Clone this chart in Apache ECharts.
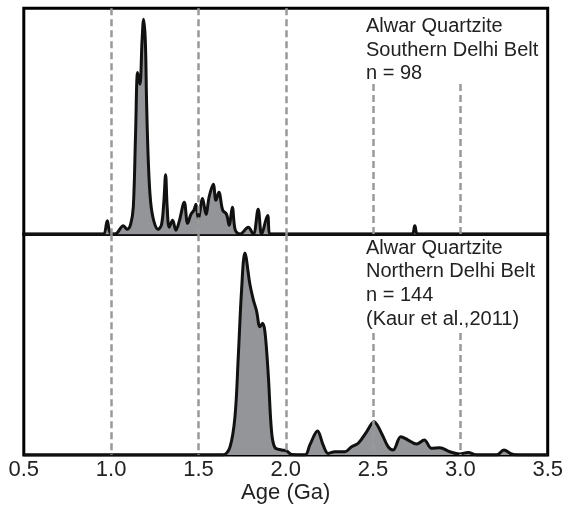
<!DOCTYPE html>
<html>
<head>
<meta charset="utf-8">
<script src="https://cdn.jsdelivr.net/npm/echarts@6/dist/echarts.min.js"></script>
<style>
    html, body { margin: 0; padding: 0; background: #fff; }
    #chart { width: 569px; height: 512px; }
</style>
</head>
<body>
<div id="chart"></div>
<script>
// Data - Southern Delhi Belt (upper panel), relative density
let topAge = [0.5, 0.9, 0.955, 0.978, 0.993, 1.022, 1.07, 1.092, 1.112, 1.127, 1.14, 1.152, 1.165, 1.177, 1.186, 1.196, 1.203, 1.213, 1.226, 1.245, 1.27, 1.289, 1.302, 1.312, 1.321, 1.333, 1.352, 1.371, 1.39, 1.419, 1.438, 1.457, 1.474, 1.486, 1.499, 1.524, 1.543, 1.562, 1.585, 1.6, 1.617, 1.639, 1.661, 1.676, 1.694, 1.711, 1.738, 1.785, 1.814, 1.842, 1.862, 1.896, 1.913, 2.72, 2.739, 2.758, 3.5];
let topDensity = [0, 0, 0, 0.063, 0.01, 0, 0.04, 0.023, 0.047, 0.126, 0.465, 0.753, 0.698, 0.898, 1.0, 0.898, 0.619, 0.34, 0.153, 0.06, 0.023, 0.047, 0.153, 0.277, 0.126, 0.033, 0.065, 0.019, 0.06, 0.149, 0.051, 0.093, 0.112, 0.14, 0.074, 0.167, 0.093, 0.177, 0.233, 0.158, 0.195, 0.112, 0.093, 0.042, 0.126, 0.019, 0, 0.033, 0, 0.116, 0, 0.088, 0, 0, 0.04, 0, 0];

// Data - Northern Delhi Belt (lower panel), relative density
let bottomAge = [0.5, 1.6, 1.642, 1.68, 1.709, 1.728, 1.747, 1.766, 1.795, 1.814, 1.833, 1.852, 1.867, 1.881, 1.9, 1.919, 1.938, 1.976, 2.005, 2.033, 2.11, 2.138, 2.182, 2.214, 2.243, 2.281, 2.339, 2.377, 2.415, 2.463, 2.505, 2.549, 2.586, 2.615, 2.659, 2.701, 2.749, 2.793, 2.835, 2.882, 2.94, 2.997, 3.044, 3.093, 3.207, 3.249, 3.293, 3.33, 3.5];
let bottomDensity = [0, 0, 0, 0.038, 0.188, 0.485, 0.817, 1.0, 0.844, 0.77, 0.713, 0.635, 0.652, 0.609, 0.396, 0.114, 0.037, 0.025, 0.02, 0.003, 0, 0.05, 0.119, 0.05, 0.008, 0.016, 0.016, 0.041, 0.058, 0.115, 0.165, 0.107, 0.041, 0.025, 0.091, 0.074, 0.054, 0.074, 0.033, 0.036, 0.016, 0.005, 0.013, 0, 0, 0.025, 0.005, 0, 0];

// Axis ticks + dashed reference lines
let ageTicks = [0.5, 1.0, 1.5, 2.0, 2.5, 3.0, 3.5];
let refLines = [1.0, 1.5, 2.0, 2.5, 3.0];
let topMax = 1.051;
let bottomMax = 1.093;
// where the dashed lines stop below the labels (null = full height)
let topLineEnd = [null, null, null, 0.699, 0.699];
let bottomLineEnd = [null, null, null, 0.604, 0.604];

let topLabel = 'Alwar Quartzite\nSouthern Delhi Belt\nn = 98';
let bottomLabel = 'Alwar Quartzite\nNorthern Delhi Belt\nn = 144\n(Kaur et al.,2011)';

let font = 'Liberation Sans, Arial, Helvetica, sans-serif';

function zip(xs, ys) {
    return xs.map((x, i) => [x, ys[i]]);
}

function dashLines(ends, max) {
    return refLines.map((x, i) => [
        { coord: [x, ends[i] === null ? max : ends[i]] },
        { coord: [x, 0] }
    ]);
}

let chart = echarts.init(document.getElementById('chart'));

let option = {
    animation: false,
    textStyle: { fontFamily: font },
    title: [
        {
            text: topLabel, left: 366, top: 15, padding: 0,
            textStyle: { fontFamily: font, fontSize: 20, fontWeight: 'normal', lineHeight: 23.5, color: '#222' }
        },
        {
            text: bottomLabel, left: 366, top: 236.5, padding: 0,
            textStyle: { fontFamily: font, fontSize: 20, fontWeight: 'normal', lineHeight: 23.6, color: '#222' }
        }
    ],
    grid: [
        { left: 23.8, right: 21.3, top: 8.3, height: 226, show: true, borderColor: '#000', borderWidth: 3, backgroundColor: 'transparent' },
        { left: 23.8, right: 21.3, top: 234.3, height: 220.7, show: true, borderColor: '#000', borderWidth: 3, backgroundColor: 'transparent' }
    ],
    xAxis: [
        {
            gridIndex: 0, type: 'value', min: 0.5, max: 3.5, interval: 0.5,
            axisLine: { show: false }, axisTick: { show: false }, axisLabel: { show: false }, splitLine: { show: false }
        },
        {
            gridIndex: 1, type: 'value', min: 0.5, max: 3.5, interval: 0.5,
            axisLine: { show: false }, axisTick: { show: false }, splitLine: { show: false },
            axisLabel: {
                fontSize: 22, color: '#222', margin: 4,
                formatter: v => ageTicks.includes(v) ? v.toFixed(1) : ''
            },
            name: 'Age (Ga)', nameLocation: 'middle', nameGap: 27,
            nameTextStyle: { fontSize: 22, color: '#222' }
        }
    ],
    yAxis: [
        { gridIndex: 0, type: 'value', min: 0, max: topMax, show: false },
        { gridIndex: 1, type: 'value', min: 0, max: bottomMax, show: false }
    ],
    series: [
        // dashed verticals, under the curves
        {
            type: 'line', xAxisIndex: 0, yAxisIndex: 0, data: [], z: 1,
            markLine: {
                silent: true, symbol: 'none', label: { show: false },
                lineStyle: { color: '#999', width: 2.5, type: [7, 4] },
                data: dashLines(topLineEnd, topMax)
            }
        },
        {
            type: 'line', xAxisIndex: 1, yAxisIndex: 1, data: [], z: 1,
            markLine: {
                silent: true, symbol: 'none', label: { show: false },
                lineStyle: { color: '#999', width: 2.5, type: [7, 4] },
                data: dashLines(bottomLineEnd, bottomMax)
            }
        },
        {
            name: 'Southern Delhi Belt', type: 'line', xAxisIndex: 0, yAxisIndex: 0, z: 3,
            data: zip(topAge, topDensity),
            smooth: 0.35, symbol: 'none',
            lineStyle: { color: '#111', width: 3, join: 'round' },
            areaStyle: { color: '#939598', opacity: 1 }
        },
        {
            name: 'Northern Delhi Belt', type: 'line', xAxisIndex: 1, yAxisIndex: 1, z: 3,
            data: zip(bottomAge, bottomDensity),
            smooth: 0.35, symbol: 'none',
            lineStyle: { color: '#111', width: 3, join: 'round' },
            areaStyle: { color: '#939598', opacity: 1 }
        }
    ]
};

chart.setOption(option);
</script>
</body>
</html>
